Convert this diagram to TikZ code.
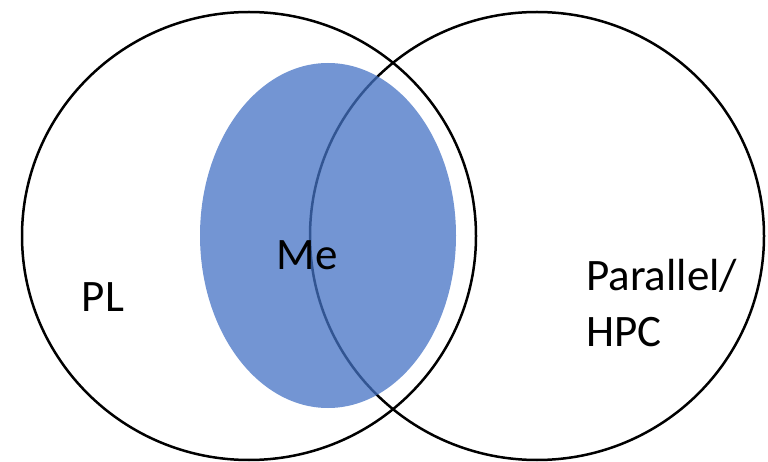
\documentclass[tikz,border=0pt]{standalone}
\usepackage{fontspec}
\setmainfont{Carlito}
\usetikzlibrary{shapes.geometric, positioning}
\definecolor{meblue}{RGB}{68, 114, 196}

\tikzset{
  area/.style={ellipse, draw=black, line width=2.5pt, inner sep=0pt},
  label/.style={font=\fontsize{45}{56}\selectfont, inner sep=0pt}
}

\begin{document}
\begin{tikzpicture}[x=1pt, y=-1pt]
\useasboundingbox (0,0) rectangle (768,462);

% Two fields
\node[area, minimum width=454pt, minimum height=448pt] (pl) at (249,236) {};
\node[area, minimum width=454pt, minimum height=448pt] (hpc) at (537,236) {};

% Where I sit
\node[ellipse, fill=meblue, fill opacity=0.75, inner sep=0pt,
      minimum width=256pt, minimum height=345pt] (me) at (328,235.5) {};

% Labels
\node[label, anchor=base] (pltext) at (103,312) {PL};
\node[label, anchor=base] (metext) at (307,270) {Me};
\node[label, anchor=base west, align=left] (hpctext) at (586,346) {Parallel/\\HPC};

\end{tikzpicture}
\end{document}
